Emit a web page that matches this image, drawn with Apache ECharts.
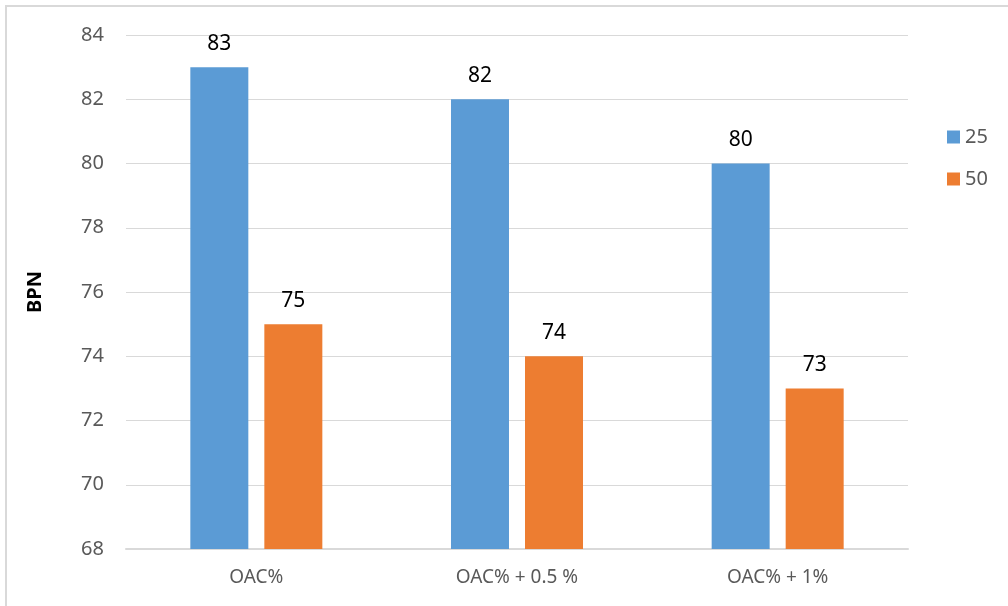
<!DOCTYPE html>
<html>
<head>
<meta charset="utf-8">
<script src="https://cdn.jsdelivr.net/npm/echarts@6/dist/echarts.min.js"></script>
<style>
  html, body { margin: 0; padding: 0; background: #fff; }
  #chart {
    position: absolute; left: 5px; top: 5px;
    width: 1003px; height: 601px;
    border-left: 2px solid #d9d9d9; border-top: 2px solid #d9d9d9;
    box-sizing: border-box;
  }
</style>
</head>
<body>
<div id="chart"></div>
<script>
/* ---------------- data ---------------- */
const categories = ['OAC%', 'OAC% + 0.5 %', 'OAC% + 1%'];
const series25 = [83, 82, 80];
const series50 = [75, 74, 73];

const fontFamily = "'Noto Sans', 'DejaVu Sans', sans-serif";

/* ---------------- chart ---------------- */
const chart = echarts.init(document.getElementById('chart'));

const labelStyle = {
  show: true,
  position: 'top',
  distance: 13,
  color: '#000',
  fontSize: 21,
  fontFamily: fontFamily,
};

chart.setOption({
  animation: false,
  color: ['#5b9bd5', '#ed7d31'],
  grid: { left: 119, right: 100, top: 28, bottom: 57 },
  legend: {
    orient: 'vertical',
    left: 935,
    top: 115,
    itemWidth: 13,
    itemHeight: 13,
    itemGap: 22,
    icon: 'rect',
    textStyle: { color: '#595959', fontSize: 20, fontFamily: fontFamily },
    data: ['25', '50'],
  },
  xAxis: {
    type: 'category',
    data: categories,
    axisLine: { lineStyle: { color: '#d9d9d9', width: 2 } },
    axisTick: { show: false },
    axisLabel: { color: '#595959', fontSize: 19, fontFamily: fontFamily, margin: 19 },
  },
  yAxis: {
    type: 'value',
    min: 68,
    max: 84,
    interval: 2,
    name: 'BPN',
    nameLocation: 'middle',
    nameGap: 81,
    nameTextStyle: { color: '#000', fontSize: 20, fontWeight: 'bold', fontFamily: fontFamily },
    axisLine: { show: false },
    axisTick: { show: false },
    splitLine: { lineStyle: { color: '#d9d9d9', width: 1 } },
    axisLabel: { color: '#595959', fontSize: 20, fontFamily: fontFamily, margin: 22 },
  },
  series: [
    {
      name: '25',
      type: 'bar',
      data: series25,
      barWidth: 58,
      barGap: '27.6%',
      label: labelStyle,
    },
    {
      name: '50',
      type: 'bar',
      data: series50,
      barWidth: 58,
      label: labelStyle,
    },
  ],
});
</script>
</body>
</html>
